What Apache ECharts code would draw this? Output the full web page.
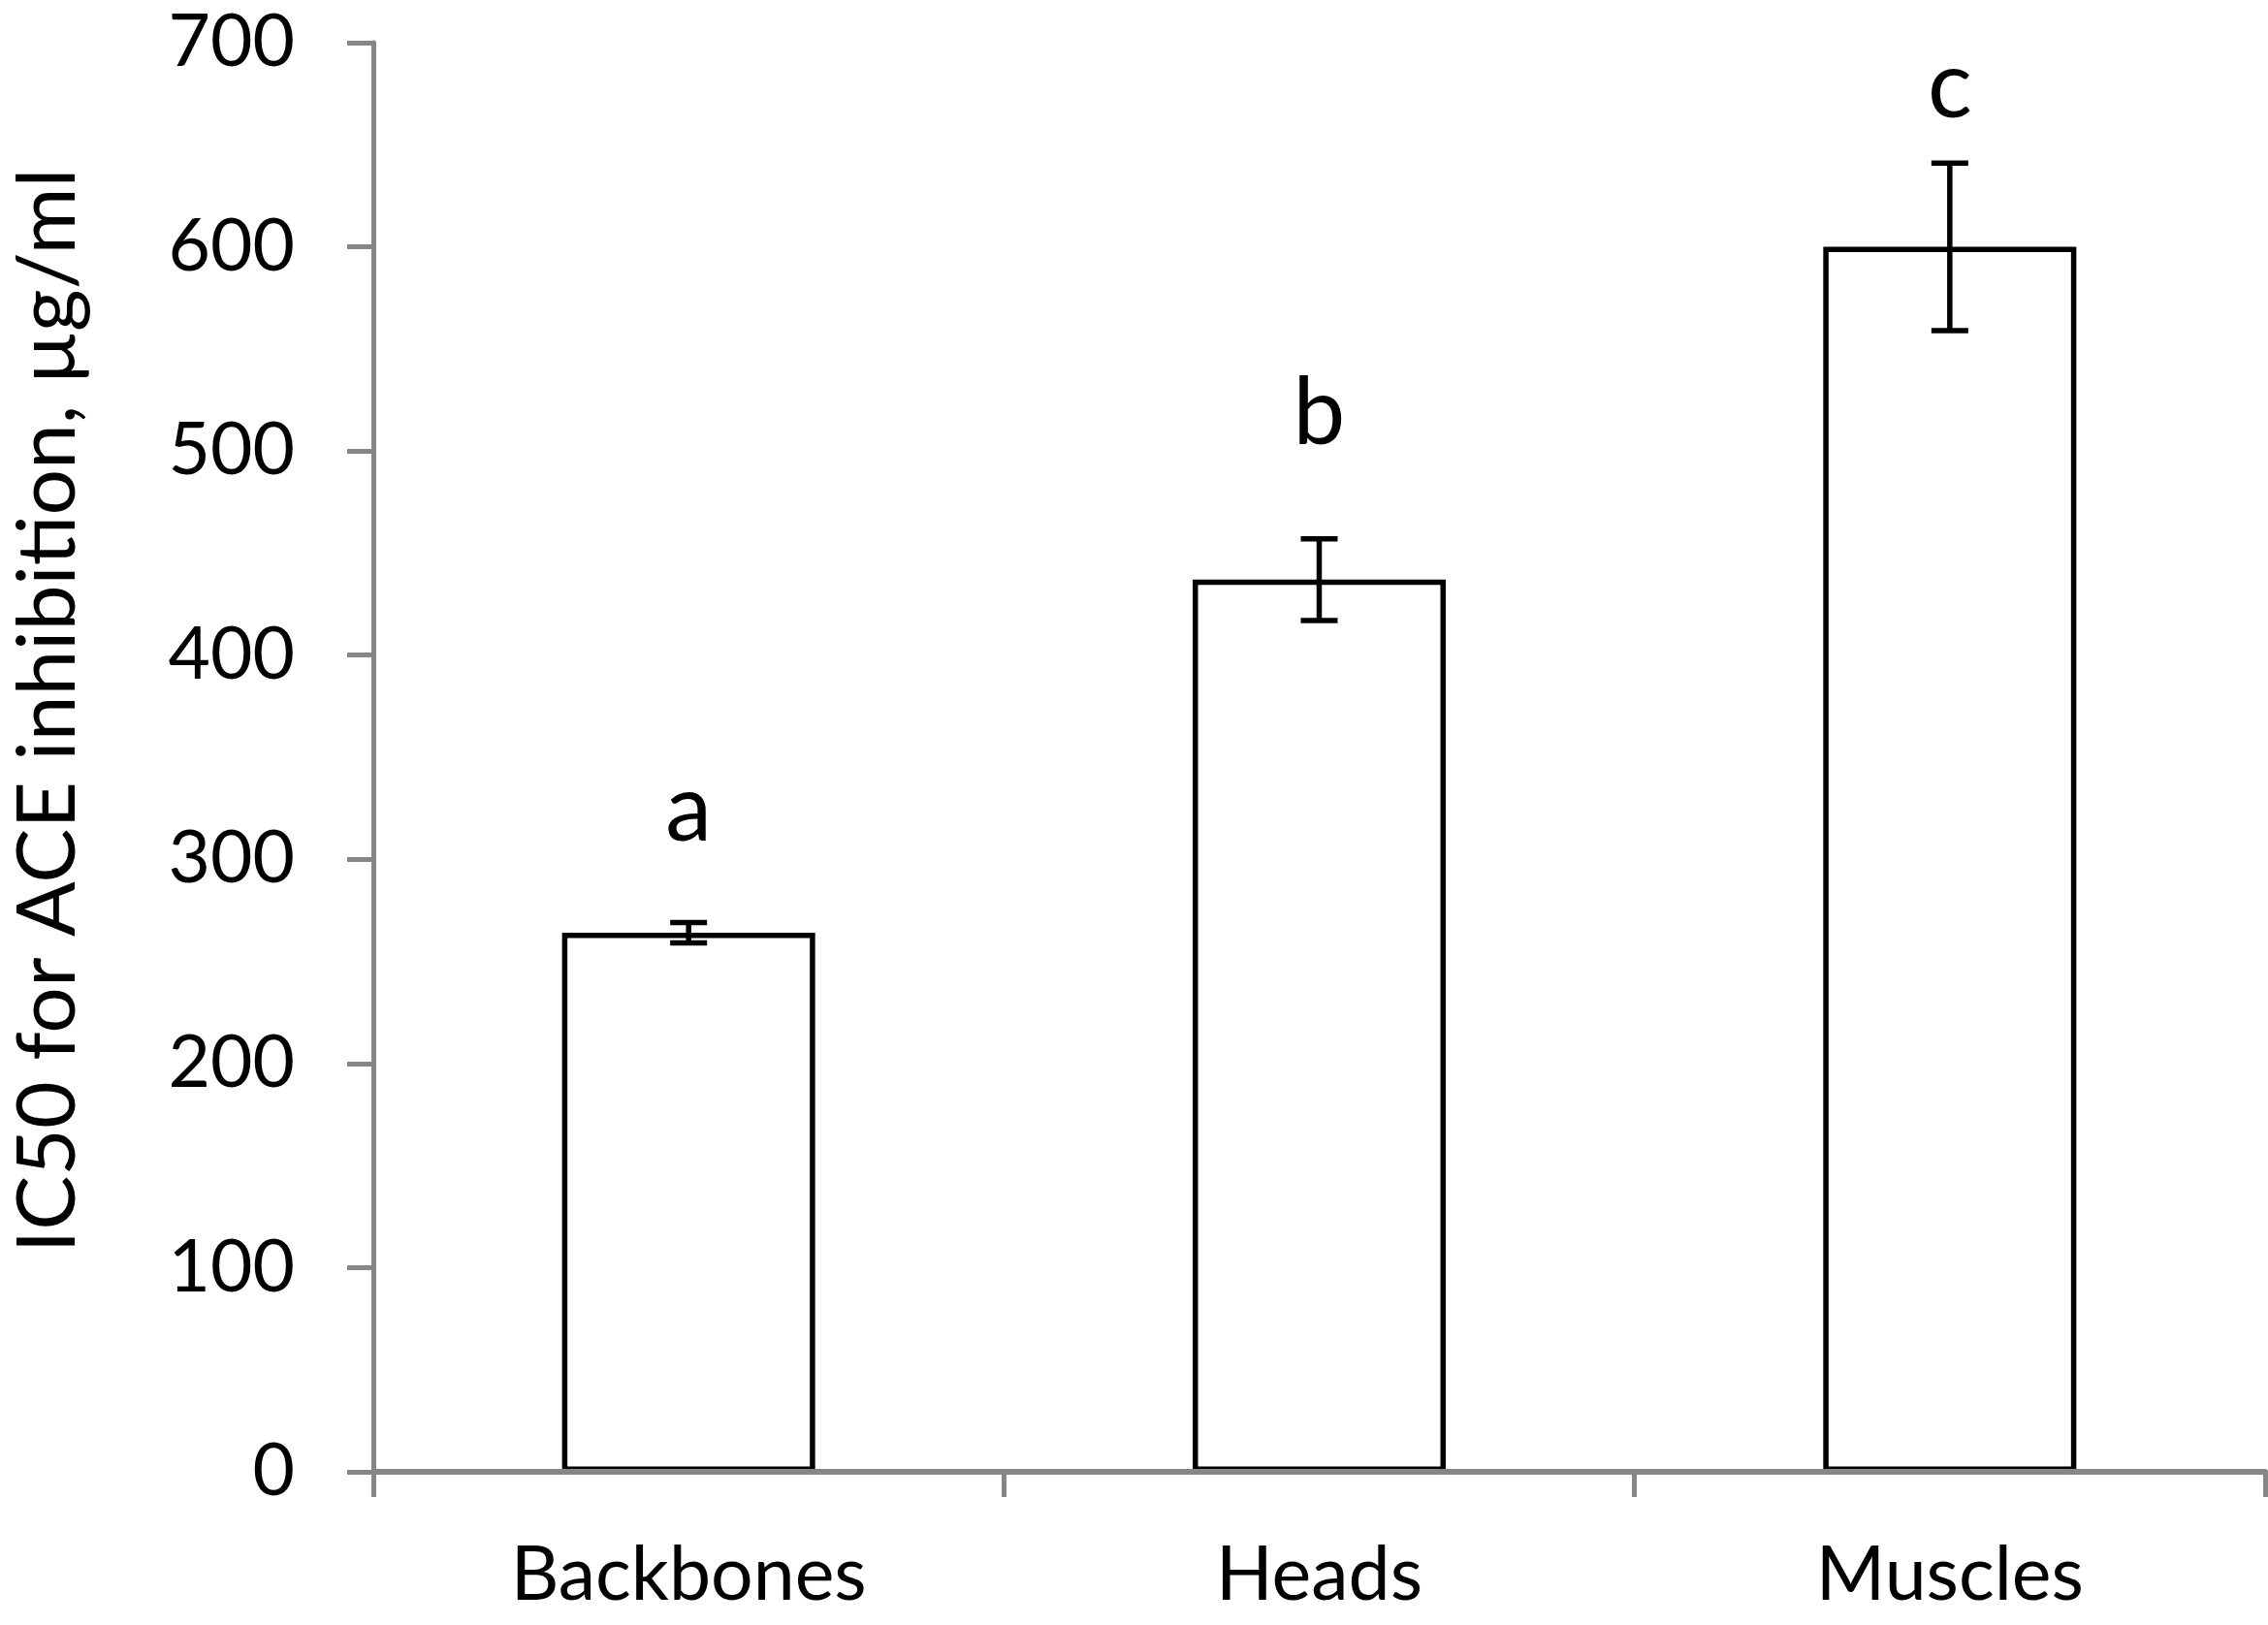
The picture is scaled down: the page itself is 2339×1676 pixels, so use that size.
<!DOCTYPE html>
<html><head><meta charset="utf-8">
<script src="https://cdn.jsdelivr.net/npm/echarts@6/dist/echarts.min.js"></script>
<style>html,body{margin:0;padding:0;background:#fff}#c{width:2339px;height:1676px}</style>
</head><body><div id="c"></div>
<script>
const categories = ['Backbones', 'Heads', 'Muscles'];
const means = [264, 437, 600];
const errors = [5, 20, 41];
const letters = ['a', 'b', 'c'];
const letterLevels = [324, 518, 678];
const yMin = 0, yMax = 700, yStep = 100;
const yTitle = 'IC50 for ACE inhibition, µg/ml';

const AXIS = '#868686';
const FONT = 'Lato';

const chart = echarts.init(document.getElementById('c'), null, {renderer: 'canvas'});
const errData = categories.map((c, i) => [i, means[i], errors[i], letterLevels[i]]);

chart.setOption({
  animation: false,
  backgroundColor: '#fff',
  grid: {left: 385, right: 3, top: 44, bottom: 158, containLabel: false, outerBoundsMode: 'none'},
  xAxis: {
    type: 'category', data: categories, z: 10,
    axisLine: {show: true, lineStyle: {color: AXIS, width: 6}},
    axisTick: {show: true, length: 26, lineStyle: {color: AXIS, width: 5}},
    axisLabel: {color: '#000', fontFamily: FONT, fontSize: 77, margin: 69}
  },
  yAxis: {
    type: 'value', min: yMin, max: yMax, interval: yStep, z: 10,
    splitLine: {show: false},
    axisLine: {show: true, lineStyle: {color: AXIS, width: 5}},
    axisTick: {show: true, length: 27, lineStyle: {color: AXIS, width: 5}},
    axisLabel: {color: '#000', fontFamily: FONT, fontSize: 75, margin: 81}
  },
  graphic: [{
    type: 'text', x: 50, y: 733, rotation: Math.PI / 2,
    style: {text: yTitle, font: '84px Lato', fill: '#000', align: 'center', verticalAlign: 'middle'}
  }],
  series: [{
    type: 'bar', data: means, barWidth: 261, z: 2,
    itemStyle: {color: '#fff', borderColor: '#000', borderWidth: 5.5}
  }, {
    type: 'custom', z: 3, data: errData,
    renderItem: function (params, api) {
      const i = api.value(0), m = api.value(1), e = api.value(2);
      const hi = api.coord([i, m + e]);
      const lo = api.coord([i, m - e]);
      const half = 19;
      const t = api.coord([i, api.value(3)]);
      const st = {stroke: '#000', lineWidth: 5.5};
      return {type: 'group', children: [
        {type: 'line', shape: {x1: hi[0], y1: hi[1], x2: lo[0], y2: lo[1]}, style: st},
        {type: 'line', shape: {x1: hi[0] - half, y1: hi[1], x2: hi[0] + half, y2: hi[1]}, style: st},
        {type: 'line', shape: {x1: lo[0] - half, y1: lo[1], x2: lo[0] + half, y2: lo[1]}, style: st},
        {type: 'text', x: t[0], y: t[1], style: {text: letters[params.dataIndex], font: '96px Lato', fill: '#000', align: 'center', verticalAlign: 'middle'}}
      ]};
    }
  }]
});
</script>
</body></html>
